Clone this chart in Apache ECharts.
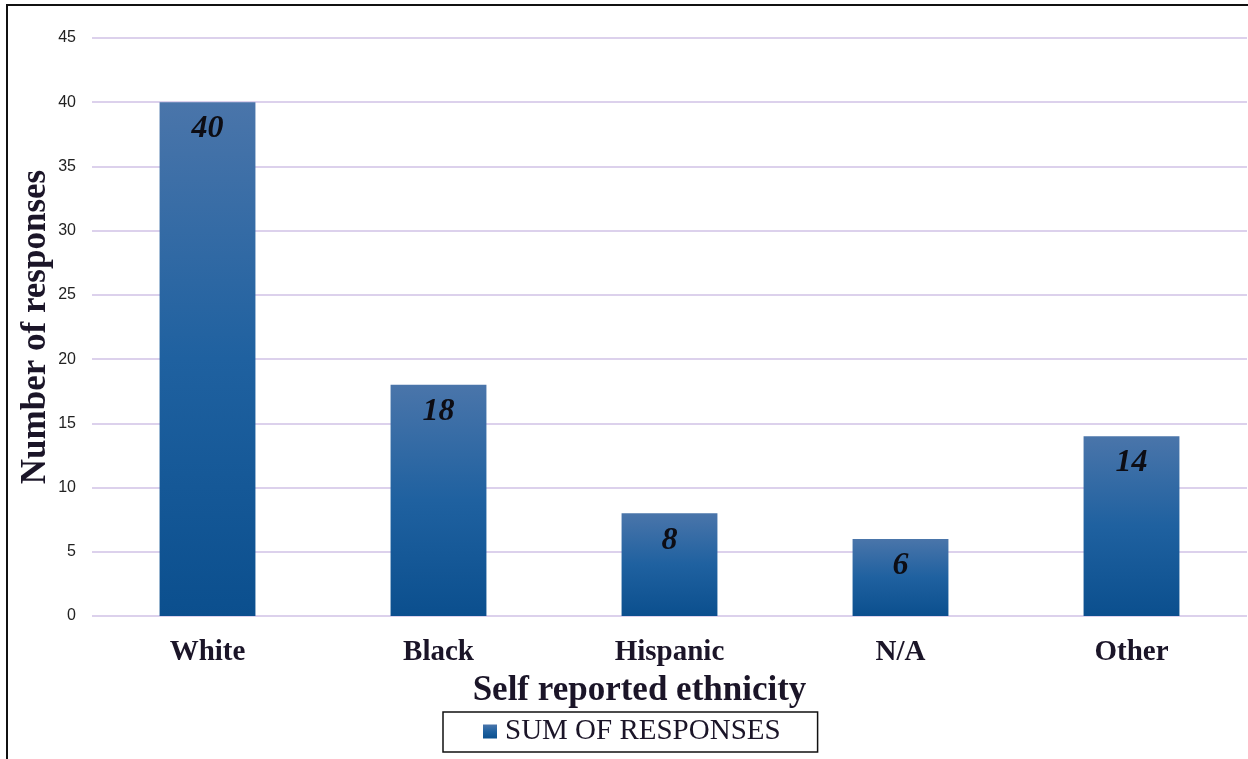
<!DOCTYPE html>
<html>
<head>
<meta charset="utf-8">
<style>
  html, body { margin: 0; padding: 0; background: #ffffff; }
  #chart { width: 1248px; height: 759px; }
</style>
<script src="https://cdn.jsdelivr.net/npm/echarts@6/dist/echarts.min.js"></script>
</head>
<body>
<div id="chart"></div>
<script>
// Survey responses grouped by self reported ethnicity
const categories = ['White', 'Black', 'Hispanic', 'N/A', 'Other'];
const responses = [40, 18, 8, 6, 14];
const seriesName = 'SUM OF RESPONSES';

const serif = '"Liberation Serif", "Times New Roman", serif';
const sans = '"Liberation Sans", Arial, sans-serif';
const ink = '#1b1528';

const barFill = new echarts.graphic.LinearGradient(0, 0, 0, 1, [
  { offset: 0, color: '#4a75aa' },
  { offset: 0.5, color: '#1f61a0' },
  { offset: 1, color: '#0b4f8e' }
]);

const chart = echarts.init(document.getElementById('chart'), null, { renderer: 'canvas' });

chart.setOption({
  animation: false,
  backgroundColor: '#ffffff',
  graphic: [
    {
      type: 'polyline',
      silent: true,
      shape: { points: [[7, 759], [7, 5], [1248, 5]] },
      style: { stroke: '#111111', lineWidth: 2, fill: null }
    }
  ],
  grid: {
    left: 92, right: 1, top: 38, bottom: 143,
    containLabel: false,
    outerBoundsMode: 'none'
  },
  legend: {
    data: [seriesName],
    left: 443,
    top: 712,
    padding: [5, 37, 6, 40],
    borderColor: '#111111',
    borderWidth: 1.5,
    itemWidth: 14,
    itemHeight: 14,
    itemGap: 8,
    icon: 'rect',
    textStyle: { fontFamily: serif, fontSize: 29, color: ink, padding: [0, 0, 0, 3] }
  },
  xAxis: {
    type: 'category',
    data: categories,
    name: 'Self reported ethnicity',
    nameLocation: 'middle',
    nameGap: 57,
    nameMoveOverlap: false,
    nameTextStyle: {
      fontFamily: serif, fontSize: 35, fontWeight: 'bold', color: ink,
      padding: [0, 60, 0, 0]
    },
    axisLine: { show: false },
    axisTick: { show: false },
    axisLabel: {
      margin: 22,
      fontFamily: serif,
      fontSize: 29,
      fontWeight: 'bold',
      color: ink
    }
  },
  yAxis: {
    type: 'value',
    min: 0,
    max: 45,
    interval: 5,
    name: 'Number of responses',
    nameLocation: 'middle',
    nameGap: 39,
    nameMoveOverlap: false,
    nameTextStyle: { fontFamily: serif, fontSize: 35, fontWeight: 'bold', color: ink },
    axisLine: { show: false },
    axisTick: { show: false },
    axisLabel: { margin: 16, fontFamily: sans, fontSize: 16, color: '#222222' },
    splitLine: { lineStyle: { color: '#dcd1ec', width: 2 } }
  },
  series: [
    {
      name: seriesName,
      type: 'bar',
      data: responses,
      barWidth: '41.5%',
      itemStyle: { color: barFill },
      label: {
        show: true,
        position: 'insideTop',
        distance: 11,
        fontFamily: serif,
        fontSize: 32,
        fontWeight: 'bold',
        fontStyle: 'italic',
        color: '#0d0d14'
      }
    }
  ]
});
</script>
</body>
</html>
